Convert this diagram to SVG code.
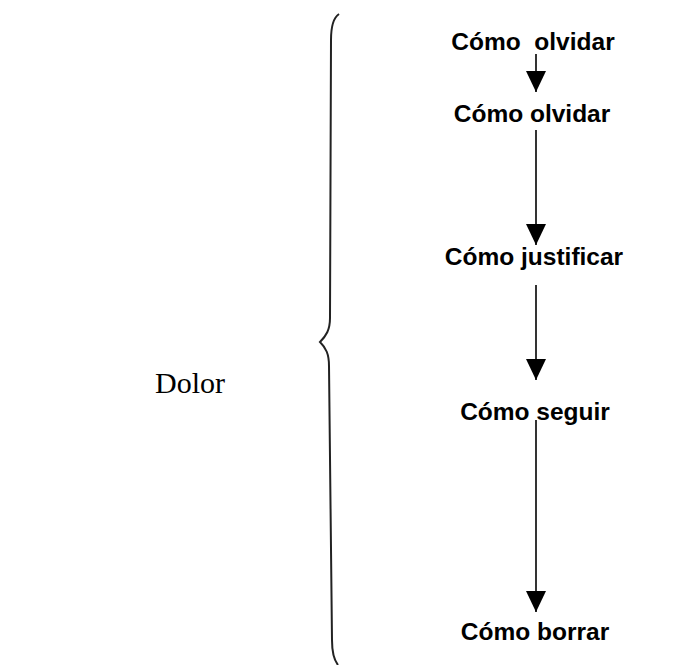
<svg xmlns="http://www.w3.org/2000/svg" width="675" height="665" viewBox="0 0 675 665">
<style>
.t{font-family:"Liberation Sans",Arial,sans-serif;font-weight:bold;font-size:24.5px;fill:#000;text-anchor:middle}
.d{font-family:"Liberation Serif","Times New Roman",serif;font-size:30px;fill:#000}
.c{stroke:#000;stroke-width:1.6;fill:none}
</style>
<defs>
<marker id="ah" viewBox="0 0 21 20" refX="21" refY="10" markerWidth="21" markerHeight="20" markerUnits="userSpaceOnUse" orient="auto">
<path d="M0,0 L21,10 L0,20 Z" fill="#000"/>
</marker>
</defs>
<rect width="675" height="665" fill="#fff"/>
<g id="brace">
<path d="M339,14 C333,18 331,26 331,40 L330,318 C330,330 326,336 320,342 C326,348 329,354 329,366 L332,640 C332,652 334,660 338,665" stroke="#222" stroke-width="2" fill="none"/>
</g>
<g id="dolor"><text class="d" x="155" y="393">Dolor</text></g>
<g id="n1"><text class="t" x="533" y="50" xml:space="preserve">Cómo  olvidar</text></g>
<g id="n2"><text class="t" x="532" y="122">Cómo olvidar</text></g>
<g id="n3"><text class="t" x="534" y="265">Cómo justificar</text></g>
<g id="n4"><text class="t" x="535" y="420">Cómo seguir</text></g>
<g id="n5"><text class="t" x="535" y="640">Cómo borrar</text></g>
<g id="connectors">
<line class="c" x1="536" y1="54" x2="536" y2="92" marker-end="url(#ah)"/>
<line class="c" x1="536" y1="130" x2="536" y2="245" marker-end="url(#ah)"/>
<line class="c" x1="536" y1="285" x2="536" y2="380" marker-end="url(#ah)"/>
<line class="c" x1="536" y1="420" x2="536" y2="612" marker-end="url(#ah)"/>
</g>
</svg>
